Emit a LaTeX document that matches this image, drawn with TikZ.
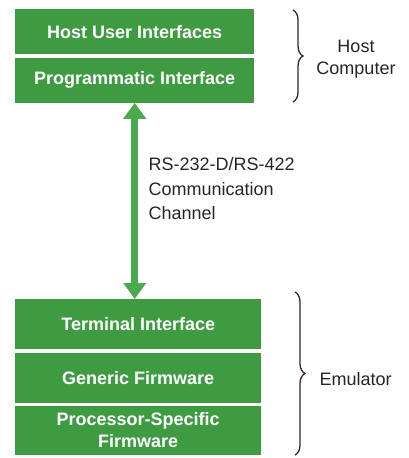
\documentclass[tikz,border=0pt]{standalone}
\usepackage{fontspec}
\setmainfont{Liberation Sans}
\usetikzlibrary{positioning, arrows.meta, decorations.pathreplacing}
\definecolor{layerGreen}{HTML}{3E9B41}
\definecolor{linkGreen}{HTML}{4AAA4C}
\definecolor{inkDark}{HTML}{2A2326}
\definecolor{braceDark}{HTML}{3A2430}

\begin{document}
\begin{tikzpicture}[x=1pt, y=-1pt, node distance=3pt,
    font=\fontsize{18}{22}\selectfont, text=inkDark,
    layer/.style={fill=layerGreen, text=white, align=center, inner sep=0pt,
                  font=\fontsize{18}{22}\selectfont\bfseries},
    hostlayer/.style={layer, minimum width=239pt, minimum height=45pt},
    emulayer/.style={layer, minimum width=246pt, minimum height=50pt},
    brace/.style={decorate, decoration={brace, amplitude=10pt},
                  draw=braceDark, line width=1.3pt}]
  \useasboundingbox (0,0) rectangle (408,458);

  % host computer side
  \node[hostlayer, anchor=north west] (hostui) at (15,9) {Host User Interfaces};
  \node[hostlayer, below=of hostui] (prog) {Programmatic Interface};

  % emulator side
  \node[emulayer, anchor=north west] (term) at (15,299) {Terminal Interface};
  \node[emulayer, below=of term] (generic) {Generic Firmware};
  \node[emulayer, minimum height=49pt, below=of generic] (procfw)
    {Processor-Specific\\Firmware};

  % serial link
  \draw[linkGreen, line width=7pt,
        {Triangle[width=22pt, length=16pt]}-{Triangle[width=22pt, length=16pt]}]
    (prog.south) -- (prog.south |- term.north);
  \node[align=left, anchor=west, font=\fontsize{18}{24.5}\selectfont] (chan)
    at (145,189) {RS-232-D/RS-422\\Communication\\Channel};

  % braces
  \coordinate (hcTop) at (293,10);
  \coordinate (hcBot) at (293,102);
  \coordinate (emTop) at (295,292);
  \coordinate (emBot) at (295,455);
  \draw[brace] (hcTop) -- (hcBot);
  \draw[brace] (emTop) -- (emBot);
  \node[align=center, font=\fontsize{18}{21.5}\selectfont] (hostlbl)
    at (356,59) {Host\\Computer};
  \node[anchor=west] (emulbl) at (316,379) {Emulator};
\end{tikzpicture}
\end{document}
